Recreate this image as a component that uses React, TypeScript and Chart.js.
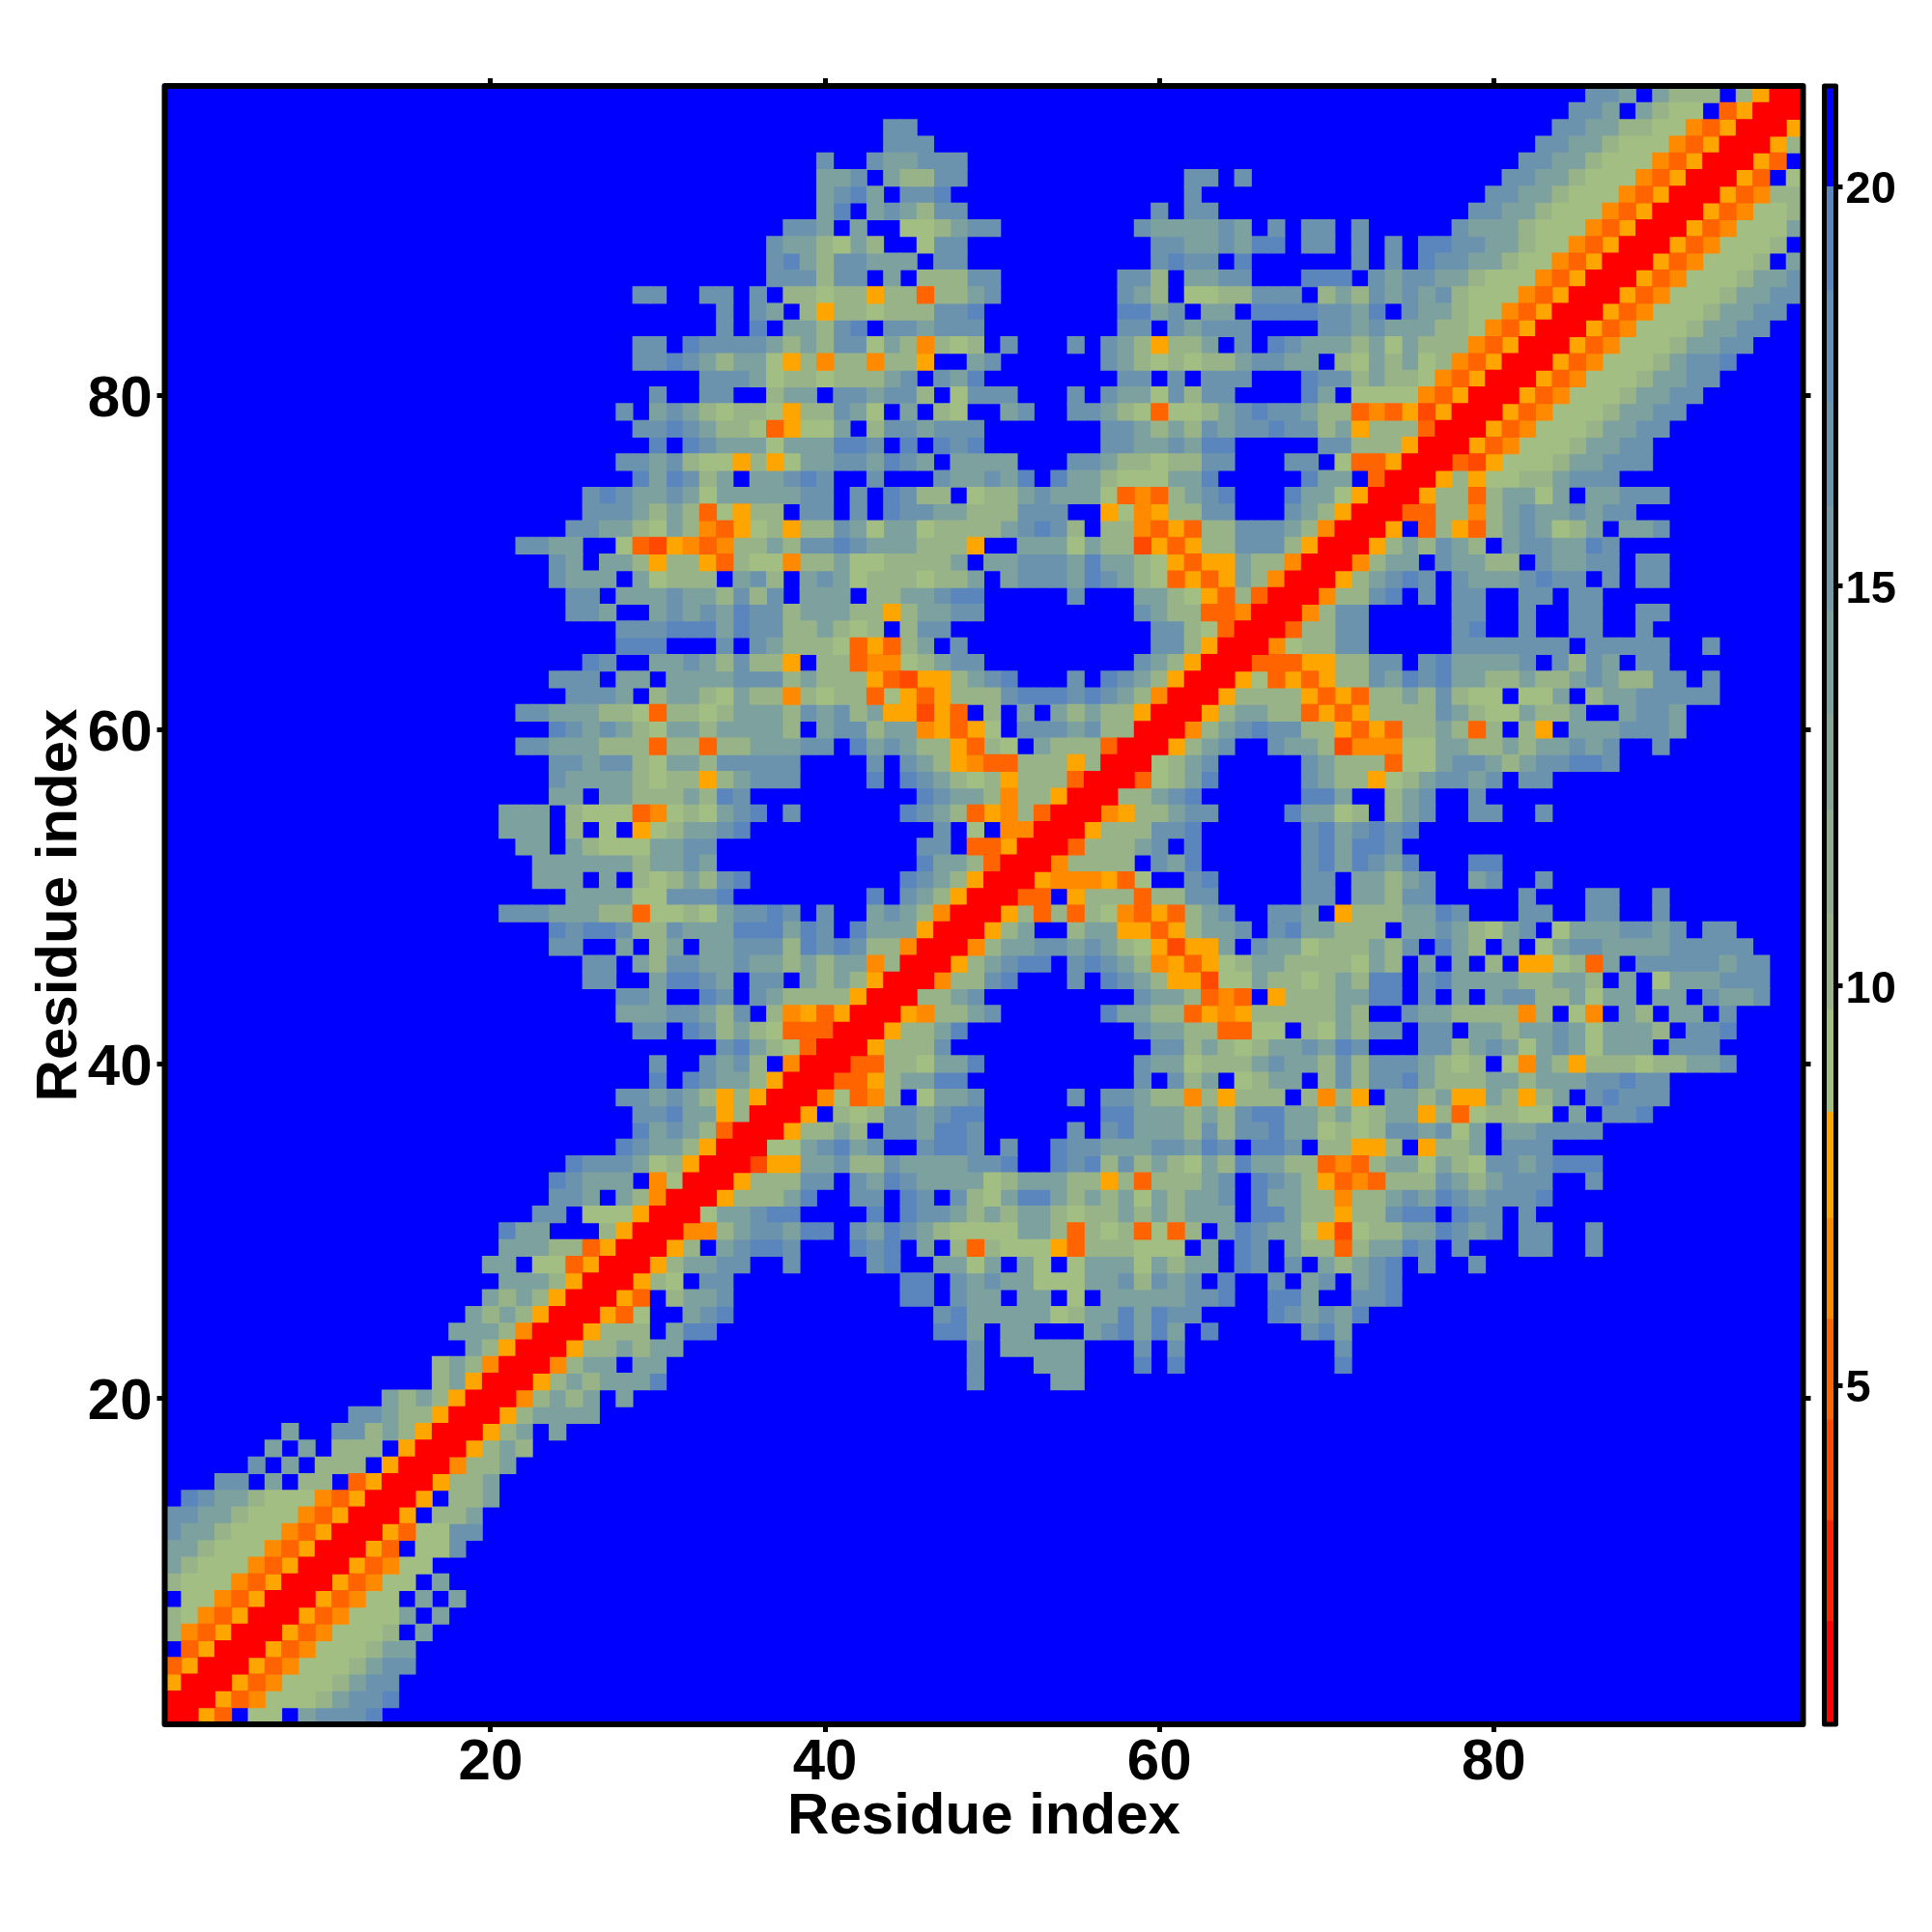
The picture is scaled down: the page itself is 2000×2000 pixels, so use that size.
import React, { useEffect, useRef } from "react";
import { Chart, registerables } from "chart.js";

Chart.register(...registerables);

const xTickValues = [20, 40, 60, 80];
const yTickValues = [20, 40, 60, 80];
const barTickValues = [5, 10, 15, 20];
const residueCount = 98;
const axisLabel = "Residue index";

// Distance read for each letter of the rows below; "." is a cell above the cut-off.
const letterValues: Record<string, number> = {
  R: 1.4, A: 3.9, B: 5.2, C: 6.5, D: 7.8,
  g: 9.2, h: 10.5, i: 13.8, k: 16.5, m: 19, ".": 21,
};

// Colour-bar bands: lower bound, upper bound.
const bandLow = [0.76, 2.05, 3.31, 4.57, 5.83, 7.09, 8.42, 9.7, 10.9, 12.2, 13.4, 14.7, 16, 17.3, 18.7, 20];
const bandHigh = [2.05, 3.31, 4.57, 5.83, 7.09, 8.42, 9.7, 10.9, 12.2, 13.4, 14.7, 16, 17.3, 18.7, 20, 21.26];
const bandColors = [
  "#ff0000", "#ff2200", "#ff4800", "#ff6400", "#ff8a00", "#ffa500",
  "#a3be82", "#98b388", "#8fae8f", "#85a697", "#7da19f", "#7599a7",
  "#6b93ae", "#6290b6", "#5a86bd", "#0000ff",
];

// Rows from the top of the map (residue 98) down to residue 1.
// Each "start:letters" chunk gives the letters of consecutive columns from that residue.
const mapRows = [
  "86:kki 90:ihhh 95:hDRR",
  "85:kki 89:ihgg 94:BDRRR",
  "44:kk 84:kkiihhggCBDRRRD",
  "44:kkk 83:kkiihgggCBDRRRDh",
  "40:k 43:kiikkk 82:kkiihgggCBDRRRDB",
  "40:iik 44:ihhkk 62:kk 65:k 81:kkiihgggCBDRRRDB.g",
  "40:ikmi 45:kkm 62:k 80:kkiihgggCBDRRRDBChh",
  "40:im 43:ikihkk 60:k 62:kk 79:kkiihgggCBDRRRDBCggh",
  "38:kki.i..gghikk 59:kiiiiki.k.kk.k 78:kiiihgggCBDRRRDBCgggi",
  "37:kiihgih..gkk 60:kkiikimm.kk.k.k 76:mmkkiihggCBDRRRDBCgggh.",
  "37:kmihkkiii.kk 60:kmkk.m 72:k 74:k 76:mkkiihggCBDRRRDBCgggh.i",
  "37:kkkhkk.i.hhhkk 58:kkh.iikk 69:mmm.kikkiihgggCBDRRRDBCggghiik",
  "29:kk 33:kk 36:k 38:hhghhDhhBhhik 58:kih.gghhkkk.hihkikikhgggCBDRRRDBCggghiikk",
  "34:k 36:ki.hDhhghhhkkm 58:mmik.ii.mmmmkkim.kiihggCBDRRRDBCggghiikk",
  "34:k 36:m.iihkm.kkikkk 58:kk.kikkk 70:kkikiiihhgCBDRRRDBCggghiikk",
  "29:kk 32:mkkkkihihkkgihChgh 51:k 55:k 57:kihDhhi.k.mkiiihigihhhCBDRRRDBCggghiikk",
  "29:kkmkihiigDhChhChhD..ik 57:kihghghhikkii.hgihighCBDRRRDBCggghikkm",
  "33:kkkighhghhhik.kim 58:kk.k.kkk 69:mkkhihhgCBDRRRDBCggghiikk",
  "30:k 33:kk 37:hii.kkikkh.gkkk 55:k 57:kiigkhkk 69:mi.ggggCBDRRRDBCggghiikk",
  "28:k.ikihghhgDhhkig.i.hg 51:ik 55:kkihgBgghikmkkihhBCBDADRRRDBCggghiikk",
  "29:kkmkihhgBDggi.hkkikkk 57:kkihihkikkmkkhiDhhhBRRRDBCggghiikk",
  "30:m.mkiiigiiimmk.m.mkm 57:kkiikimm 70:kkhhhDRRRDBCggghiikk",
  "28:kkikhggDhDgiikkimki.iiii 55:kkihhghhkk 68:kk.gBBDRRRBADggghiikkk",
  "29:mimkhi.iikmk..k...kiikim.miihgggiim 69:mii.BRRRDhDgghhikkk",
  "26:kmkiikigiiiiikk.k.mkhh.gh 51:hikiiigBCBhikm 68:miigDRRRDhhBhiigi.iikkk",
  "26:kkkihihBgDhh.kk.k.mkkiihh 51:hkkk 57:DgCDhhkk 68:kihDRRRBBhhChikiikikk",
  "25:kkiihgihCBDghDhhkigiighhhh 51:ikmkh.hhCBDBhhkkkihCRRRD.BhDBhikighi.iik",
  "22:kkii 28:gBADCBChhihkkmkiiihhhD 52:iiigihhADBDhhkkkhDRRRDhihkih.ikkiimk",
  "24:ki.iihDhhDBhggChhigghhhhi. 50:iikkkimiihgDBDDihhCRRRChii.kiihh.kiikk.kk",
  "24:kiii.ighhh.ikh.ikighhhghhi 51:ikkkimkihgBDBDihCRRRDhikmk.kiiikmkk.k.kk",
  "25:kk.iiikiihkhk.iii.hhiikmm 55:k 59:iihgDBhBRRRChhkm.k.kk..kk.kk",
  "25:kki..ikikimkkhiiihhDhiikk 59:kihhBBCRRRChkk 78:kk 82:k 85:kk 89:kk",
  "28:kkkmmmimkkhhihgh.hkk 60:kkhgBRRRBhhkk 78:km 82:k 85:kk 89:k",
  "28:mmm 34:k 36:kihhhgBDBhi.k 60:kkhDRRRCghhkk 78:kkkkkkk.kkkkk 93:k",
  "26:mk 30:iikihkhhD.hhBCCghikk 59:kihDRRRBBBDDhhkk.kmiiiik.khki.kk",
  "24:kkk.ii.iiiikkkhihhhDBADDhikm 55:k 57:mkihDRRRDgBDBDhhkimkmiihhihhikihhkk.k",
  "25:kkki.hiihgihhChghhBgDBDhhh 51:kmmmkmkihCRRRDhhhhDBDBhhihkhgg.ggi.hiikkkkk",
  "22:kkiiihhgBhhghiiihkikhiDDADB 50:h.i.ihihhDRRRDhiihhBDBDhhhhkihggihhi..ikki",
  "24:mkikihgiihiiiih.ikkhiiCDBD 50:g.kkkikhhRRRChikmkkhhDBDBhhihBh.hD.iiikkki",
  "22:kkiiihhhBhhBhhiiikk.mikihhDB 50:hg.ihhhBRRRDhik 67:kiihACCCggiihhihiikik 90:k",
  "24:kkikkhgiihkkkkk....k.kihDC 50:BBhhhDhRRRghik.....kihhhBggikkihikkmmk",
  "24:kiiiihghhDhikkk....m.mkihg 50:hDhhhBRRRBghim.....kihhDghikkik.kk",
  "24:ii.iihhhihmk 46:mkiihChhDRRRhhikm 69:mmi..hik..k",
  "21:iii.hgggBCghgikm.k 45:mkihBDChBRRRCDhhikk 68:miigh.hik 79:kk 83:k",
  "21:iii.h.g.Dghiikm 47:k.g.CCRRRDhhhkkm 69:kmikmkm",
  "22:ii.ihgggiikk 46:kk.BBDRRRBhhhik.m 69:kmimmk",
  "23:iiiiiihiiki 46:miihBRRRChhhh.kim 69:kmimkim 79:mm",
  "23:iii.i.hghihkm 45:mkihDRRRDCCCDBg..km 69:kk.iihik 79:ik 83:k",
  "25:iiiiggkkkm 43:m.kihDRRRBB.DhhhBhhkk 69:kk.iihkk 82:k 86:kk 90:k",
  "21:kkkiiihhBgghgikkmk.k 43:ikihCRRRDhBhBhgCBDBhik 67:kki.Dhhhiimk 82:kk 86:kk 90:k",
  "24:mkmmkhhkiiimmmimk 42:miiiDRRRDhi..hiiDDBDhiik.kmiihhh.iikihgik.giiikkik.kk",
  "24:kk 28:i.hi.iikkkhmkmkhhCRRRChiikkikihgDADDi.kiighhhihk.mih.i.gikkiiiikkkkk",
  "26:kk.ihkkiikiihihiiChRRRDhikmm.kmkihCDBDghiihhhhgih.i.i.h.DDghBi.kkkkkikk",
  "26:kk 30:immki.kk.ihihDRRRChhkm 55:k 57:mkihDDAggihhghihmm.kmiiiihhiih.i.giiikkk",
  "28:kki 33:mk 36:kihhhhDRRRhhik 59:kiihBCB.Dhhhiimm.k.i.ikkhhigii.ii.kiik",
  "28:iiikkihk.hCDBDRRRDChhik 57:miihhBDCDhhhhhih..kiihhhhCh.gC.ih.ii.k",
  "29:kk.mkhihgBBBRRRDhhim 59:kiihhBBgg.hgihkk.kk.iihiikigiiih.kkm",
  "34:kmihgBRRRDhhhk 60:kkhihghiikimk 76:kkhikigikigiii.kkk",
  "30:k 33:kikh.CRRRBBhhgiim 59:kiighhhikiihkhkkkihgh.gCihDhhhghhiik",
  "30:m 32:mkiihDRRRBBDhiimm 59:k.khi.ghii.hkhkkmihhhiihiiikkmkk",
  "28:kkikihDhDRRRCgBCh.giik 55:k 57:kkihhChDhhh.hChD.iihiDDihDhi.kmkkk",
  "29:kkmiiDhRRRD.hghkkikmm 57:mmiiihihkmmiihighiiDhBghhgg.i.kkm",
  "29:mikihBRRRDhhih.kkimmk 55:k 57:kmiiihkhkkmiighghkkikgi.iikkkk",
  "28:mkiihDRRRggikmik..kmmk 51:k 54:mkkiiikkimk.mmk.hhDDh.Dhhi.kkk",
  "25:mkkkighDRRRADDiikhhkiiiikkm 54:mkmhkhihgihmiihhBCBhiigihgkkikmmm",
  "24:mkiii.CgRRRDhhhkk.kimkiiiig 51:hiiihhDhBhhhik.mkihDBCBhhhkihikkk 86:k",
  "24:kki.ihCRRRDhhhim 42:kk.mk.khg 51:immihihigihiik.miihhChhikimkikkkm",
  "23:kk.gggDRRRgiikmm 43:m.mkkihi 51:hiihghhihihiii.mmihhDhhkmm.mkk.k",
  "21:mii...hDRRRCChikkimm 42:kimkihggggiihBhghBgBh.imkiigDAghhiimkik 82:kk 86:k",
  "21:iiihhBDRRRDh.ikmmk 42:mkm.i.hB 50:hgggDBhhhggg.i.mk.ihhBhiimk.k. 82:kk 86:k",
  "20:ii.ggBDRRRDhiikk 38:k 43:km 47:iigi.ig.giiigihii.mk.k.ihikm 76:k 79:k",
  "21:iiihDRRRDhg.kk 45:mm.kikiigggiikhkik.m 67:k 69:ik 72:ikm",
  "20:ihihDRRRDB.hiik 45:mm.kii.ii.g.iiiiikkm 67:mmi 72:kkm",
  "19:ihihDRRRDBg 32:ikm 47:kmiiiiighiimimkk 67:mkikim",
  "18:iiihCRRRDhhh.imm 47:mmi.ii...ikmimi.m 69:kmi",
  "19:ihDRRRDhhihii 49:k 51:iiiii 59:k 61:k 71:k",
  "17:hihCRRRChii.ii 49:k 53:iii 59:m 61:m 71:m",
  "17:hiDRRRDhihiiim 49:k 54:ii",
  "14:ihihDRRRChihi.i",
  "12:kkihhDRRRDhiiii",
  "8:i 11:kkhihDRRRDhi.i",
  "7:i.i 11:hhh.DRRRDhih",
  "6:k.i.hhh.DRRRChhi",
  "4:kk.i.hh.BDRRRDhhi",
  "2:mkiihgggCBDRRRD.hhi",
  "1:kkiihgggCBDRRRD.hhi",
  "1:kiihgggCBDRRRDBggkk",
  "1:iihgggCBDRRRDB.ggk",
  "1:ihgggCBDRRRDBCgg",
  "1:hgggCBDRRRDBCgg.i",
  "2:ggCBDRRRDBCgg.i.i",
  "1:hgCBDRRRDBCgggi.i",
  "1:hCBDRRRDBCgggh.i",
  "2:BDRRRDBCggghii",
  "1:BDRRRDBCggghikk",
  "1:DRRRDBCggghikk",
  "1:RRRDBCggghikkm",
  "1:RRDB.gg.ikkkm",
];

function parseRow(row: string): string[] {
  const cells = new Array(residueCount + 1).fill(".");
  row.split(" ").forEach((chunk) => {
    const [start, letters] = chunk.split(":");
    [...letters].forEach((letter, i) => {
      const col = Number(start) + i;
      if (col <= residueCount) cells[col] = letter;
    });
  });
  return cells;
}

function bandOf(value: number): number {
  return bandLow.findIndex((low, i) => value >= low && value < bandHigh[i]);
}

function buildMapDatasets() {
  const groups: { x: number; y: number }[][] = bandColors.map(() => []);
  mapRows.forEach((row, t) => {
    const cells = parseRow(row);
    for (let col = 1; col <= residueCount; col++) {
      groups[bandOf(letterValues[cells[col]])].push({ x: col, y: residueCount - t });
    }
  });
  const lastBand = bandColors.length - 1;
  // Coloured cells overlap by about a pixel so no seams show; the blue cells come
  // last, at their exact size, so the overlap never eats into them.
  return groups.map((data, i) => ({
    type: "scatter" as const,
    label: String(i),
    data,
    pointStyle: "rect",
    pointRadius: i === lastBand ? 12.23 : 12.9,
    pointHoverRadius: i === lastBand ? 12.23 : 12.9,
    pointBorderWidth: 0,
    pointBackgroundColor: bandColors[i],
    showLine: false,
  }));
}

const FONT = "'Liberation Sans', Arial, sans-serif";
const fixTicks = (values: number[]) => (scale: any) => {
  scale.ticks = values.map((value) => ({ value }));
};

const framePlugin = (lineWidth: number) => ({
  id: "frame",
  afterDatasetsDraw(chart: any) {
    const { ctx, chartArea: a } = chart;
    ctx.save();
    ctx.strokeStyle = "#000";
    ctx.lineWidth = lineWidth;
    ctx.lineJoin = "round";
    ctx.strokeRect(a.left, a.top, a.right - a.left, a.bottom - a.top);
    ctx.restore();
  },
});

const mapBackdrop = {
  id: "mapBackdrop",
  beforeDatasetsDraw(chart: any) {
    const { ctx, chartArea: a } = chart;
    ctx.save();
    ctx.fillStyle = bandColors[bandColors.length - 1];
    ctx.fillRect(a.left, a.top, a.right - a.left, a.bottom - a.top);
    ctx.restore();
  },
};

export default function App() {
  const mapRef = useRef<HTMLCanvasElement>(null);
  const barRef = useRef<HTMLCanvasElement>(null);

  useEffect(() => {
    document.body.style.margin = "0";
    const tickGrid = { drawOnChartArea: false, drawTicks: true, tickLength: 8, tickWidth: 5, color: "#000" };
    const noBorder = { display: false };
    const mapChart = new Chart(mapRef.current!, {
      type: "scatter",
      data: { datasets: buildMapDatasets() as any },
      plugins: [mapBackdrop, framePlugin(6)],
      options: {
        animation: false,
        responsive: false,
        devicePixelRatio: 1,
        events: [],
        layout: { padding: 0 },
        plugins: { legend: { display: false }, tooltip: { enabled: false } },
        scales: {
          x: {
            type: "linear", position: "bottom", min: 0.5, max: residueCount + 0.5,
            afterBuildTicks: fixTicks(xTickValues),
            afterFit: (s: any) => { s.height = 215; },
            grid: tickGrid, border: noBorder,
            ticks: { color: "#000", padding: -4, maxRotation: 0, font: { family: FONT, size: 60, weight: "bold" } },
            title: { display: true, text: axisLabel, color: "#000", padding: { top: 0, bottom: 83 }, font: { family: FONT, size: 60, weight: "bold" } },
          },
          xTop: {
            type: "linear", position: "top", min: 0.5, max: residueCount + 0.5,
            afterBuildTicks: fixTicks(xTickValues),
            afterFit: (s: any) => { s.height = 89; },
            grid: tickGrid, border: noBorder, ticks: { display: false },
          },
          y: {
            type: "linear", position: "left", min: 0.5, max: residueCount + 0.5,
            afterBuildTicks: fixTicks(yTickValues),
            afterFit: (s: any) => { s.width = 170.5; },
            grid: tickGrid, border: noBorder,
            ticks: { color: "#000", padding: 5, labelOffset: 5, font: { family: FONT, size: 60, weight: "bold" } },
            title: { display: true, text: axisLabel, color: "#000", padding: { top: 26, bottom: 0 }, font: { family: FONT, size: 60, weight: "bold" } },
          },
          yRight: {
            type: "linear", position: "right", min: 0.5, max: residueCount + 0.5,
            afterBuildTicks: fixTicks(yTickValues),
            afterFit: (s: any) => { s.width = 133.5; },
            grid: tickGrid, border: noBorder, ticks: { display: false },
          },
        },
      } as any,
    });

    const barChart = new Chart(barRef.current!, {
      type: "bar",
      data: {
        labels: ["scale"],
        datasets: bandColors.map((color, i) => ({
          label: String(i),
          data: [[bandLow[i], bandHigh[i]]],
          backgroundColor: color,
          borderWidth: 0,
          barPercentage: 1,
          categoryPercentage: 1,
        })) as any,
      },
      plugins: [framePlugin(5)],
      options: {
        animation: false,
        responsive: false,
        devicePixelRatio: 1,
        events: [],
        layout: { padding: { left: 1888.5, top: 89, bottom: 215, right: 0 } },
        plugins: { legend: { display: false }, tooltip: { enabled: false } },
        scales: {
          x: { display: false, stacked: true },
          y: {
            type: "linear", position: "right", min: bandLow[0], max: bandHigh[bandHigh.length - 1],
            afterBuildTicks: fixTicks(barTickValues),
            afterFit: (s: any) => { s.width = 99.5; },
            grid: { drawOnChartArea: false, drawTicks: true, tickLength: 7, tickWidth: 5, color: "#000" },
            border: noBorder,
            ticks: { color: "#000", padding: 3, labelOffset: 4, font: { family: FONT, size: 47, weight: "bold" } },
          },
        },
      } as any,
    });

    return () => {
      mapChart.destroy();
      barChart.destroy();
    };
  }, []);

  const layer: React.CSSProperties = { position: "absolute", left: 0, top: 0, width: 2000, height: 2000 };
  return (
    <div style={{ position: "relative", width: 2000, height: 2000, background: "#fff" }}>
      <canvas ref={mapRef} width={2000} height={2000} style={layer} />
      <canvas ref={barRef} width={2000} height={2000} style={layer} />
    </div>
  );
}
